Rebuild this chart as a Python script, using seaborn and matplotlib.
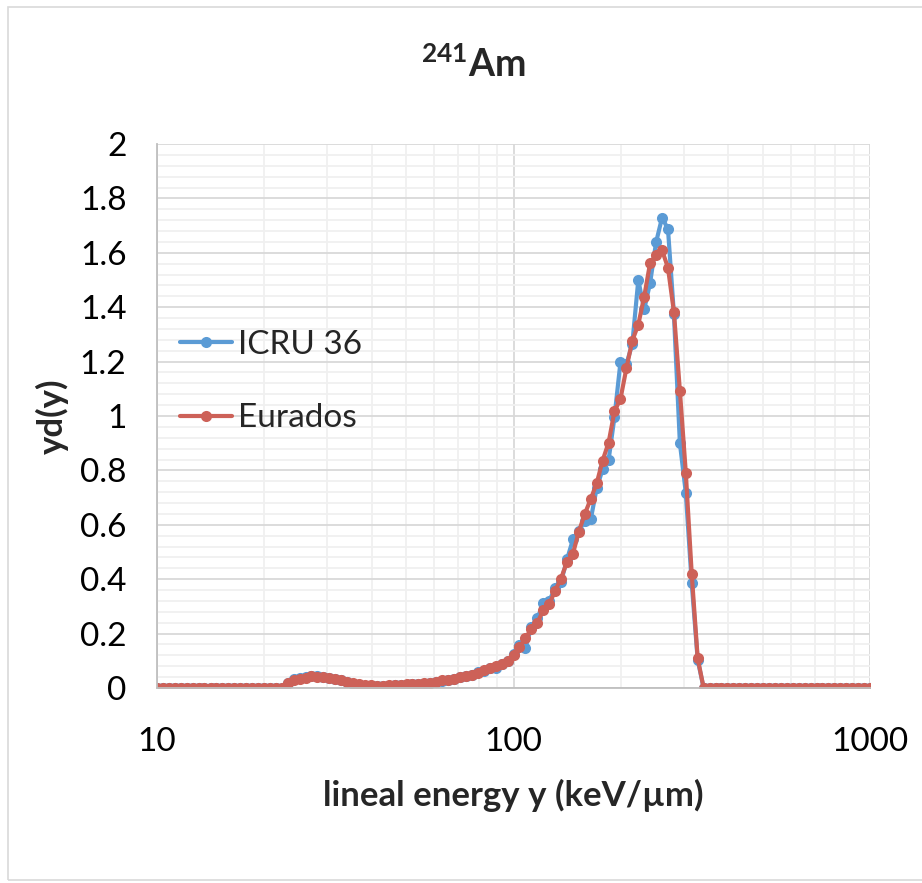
import numpy as np
import pandas as pd
import seaborn as sns
import matplotlib.pyplot as plt
from matplotlib.patches import Rectangle
from matplotlib.ticker import FixedLocator, FuncFormatter, NullFormatter

# lineal energy grid (keV/um)
LINEAL_Y = [
    10.0, 10.39, 10.80, 11.22, 11.66, 12.12, 12.59, 13.08, 13.59, 14.13,
    14.68, 15.25, 15.85, 16.47, 17.11, 17.78, 18.48, 19.20, 19.95, 20.73,
    21.54, 22.39, 23.26, 24.17, 25.12, 26.10, 27.12, 28.18, 29.29, 30.43,
    31.62, 32.86, 34.15, 35.48, 36.87, 38.31, 39.81, 41.37, 42.99, 44.67,
    46.42, 48.23, 50.12, 52.08, 54.12, 56.23, 58.43, 60.72, 63.10, 65.56,
    68.13, 70.80, 73.56, 76.44, 79.43, 82.54, 85.77, 89.13, 92.61, 96.24,
    100.0, 103.9, 108.0, 112.2, 116.6, 121.2, 125.9, 130.8, 135.9, 141.3,
    146.8, 152.5, 158.5, 164.7, 171.1, 177.8, 184.8, 192.0, 199.5, 207.3,
    215.4, 223.9, 232.6, 241.7, 251.2, 261.0, 271.2, 281.8, 292.9, 304.3,
    316.2, 328.6, 341.5, 354.8, 368.7, 383.1, 398.1, 413.7, 429.9, 446.7,
    464.2, 482.3, 501.2, 520.8, 541.2, 562.3, 584.3, 607.2, 631.0, 655.6,
    681.3, 708.0, 735.6, 764.4, 794.3, 825.4, 857.7, 891.3, 926.1, 962.4,
    1000.0,
]

ICRU36 = [
    0, 0, 0, 0, 0, 0, 0, 0, 0, 0,
    0, 0, 0, 0, 0, 0, 0, 0, 0, 0,
    0, 0, 0.020, 0.032, 0.036, 0.040, 0.045, 0.043, 0.042, 0.038,
    0.033, 0.028, 0.021, 0.015, 0.011, 0.008, 0.007, 0.007, 0.008, 0.009,
    0.010, 0.011, 0.012, 0.013, 0.015, 0.016, 0.018, 0.021, 0.025, 0.029,
    0.033, 0.039, 0.043, 0.046, 0.058, 0.064, 0.073, 0.072, 0.088, 0.100,
    0.125, 0.158, 0.147, 0.225, 0.256, 0.311, 0.320, 0.367, 0.390, 0.473,
    0.546, 0.578, 0.615, 0.620, 0.734, 0.804, 0.838, 0.997, 1.197, 1.190,
    1.265, 1.500, 1.392, 1.490, 1.639, 1.729, 1.688, 1.375, 0.900, 0.718,
    0.385, 0.103, 0, 0, 0, 0, 0, 0, 0, 0,
    0, 0, 0, 0, 0, 0, 0, 0, 0, 0,
    0, 0, 0, 0, 0, 0, 0, 0, 0, 0,
    0,
]

EURADOS = [
    0, 0, 0, 0, 0, 0, 0, 0, 0, 0,
    0, 0, 0, 0, 0, 0, 0, 0, 0, 0,
    0, 0, 0.018, 0.030, 0.034, 0.038, 0.043, 0.042, 0.041, 0.038,
    0.034, 0.029, 0.023, 0.018, 0.014, 0.011, 0.010, 0.009, 0.009, 0.010,
    0.011, 0.012, 0.013, 0.014, 0.016, 0.018, 0.020, 0.023, 0.028, 0.031,
    0.034, 0.040, 0.044, 0.048, 0.056, 0.065, 0.075, 0.080, 0.090, 0.100,
    0.122, 0.150, 0.182, 0.218, 0.240, 0.285, 0.307, 0.358, 0.402, 0.464,
    0.494, 0.575, 0.640, 0.695, 0.752, 0.836, 0.902, 1.018, 1.062, 1.175,
    1.277, 1.336, 1.439, 1.563, 1.592, 1.610, 1.545, 1.383, 1.093, 0.792,
    0.419, 0.109, 0, 0, 0, 0, 0, 0, 0, 0,
    0, 0, 0, 0, 0, 0, 0, 0, 0, 0,
    0, 0, 0, 0, 0, 0, 0, 0, 0, 0,
    0,
]

SERIES = ["ICRU 36", "Eurados"]
PALETTE = ["#5B9BD5", "#CD6158"]

X_MAJOR = [10, 100, 1000]
X_MINOR = [20, 30, 40, 50, 60, 70, 80, 90, 200, 300, 400, 500, 600, 700, 800, 900]
Y_MAJOR = [0, 0.2, 0.4, 0.6, 0.8, 1.0, 1.2, 1.4, 1.6, 1.8, 2.0]

FONT = ["Lato", "DejaVu Sans"]


def main():
    df = pd.concat([
        pd.DataFrame({"y": LINEAL_Y, "yd": ICRU36, "source": SERIES[0]}),
        pd.DataFrame({"y": LINEAL_Y, "yd": EURADOS, "source": SERIES[1]}),
    ], ignore_index=True)

    sns.set_theme(style="white")
    plt.rcParams["font.family"] = FONT
    plt.rcParams["mathtext.fontset"] = "custom"
    plt.rcParams["mathtext.rm"] = "Lato"
    plt.rcParams["mathtext.bf"] = "Lato:bold"

    fig = plt.figure(figsize=(9.22, 8.83), dpi=100)
    ax = fig.add_axes([157 / 922, 1 - 688 / 883, 713 / 922, 544 / 883])

    sns.lineplot(
        data=df, x="y", y="yd", hue="source", hue_order=SERIES,
        palette=PALETTE, marker="o", markersize=8, markeredgewidth=0,
        linewidth=3.0, ax=ax,
    )

    ax.set_xscale("log")
    ax.set_xlim(10, 1000)
    ax.set_ylim(0, 2)

    # excel-like gridlines
    ax.xaxis.set_major_locator(FixedLocator(X_MAJOR))
    ax.xaxis.set_minor_locator(FixedLocator(X_MINOR))
    ax.xaxis.set_major_formatter(FuncFormatter(lambda v, p: f"{v:g}"))
    ax.xaxis.set_minor_formatter(NullFormatter())
    ax.yaxis.set_major_locator(FixedLocator(Y_MAJOR))
    ax.yaxis.set_minor_locator(FixedLocator([k * 0.04 for k in range(51)]))
    ax.yaxis.set_major_formatter(FuncFormatter(lambda v, p: f"{v:g}"))
    ax.grid(True, which="major", color="#D9D9D9", linewidth=1.3)
    ax.grid(True, which="minor", color="#F0F0F0", linewidth=1.3)
    ax.set_axisbelow(True)

    for side in ("top", "right"):
        ax.spines[side].set_visible(False)
    for side in ("left", "bottom"):
        ax.spines[side].set_color("#BFBFBF")
        ax.spines[side].set_linewidth(1.3)

    ax.tick_params(axis="both", which="both", length=0, labelsize=24,
                   colors="black")
    ax.tick_params(axis="y", pad=22)
    ax.tick_params(axis="x", pad=28)

    ax.set_xlabel("lineal energy y (keV/µm)", fontsize=25, fontweight="bold",
                  labelpad=16)
    ax.set_ylabel("yd(y)", fontsize=25, fontweight="bold", labelpad=8)

    handles, labels = ax.get_legend_handles_labels()
    ax.legend(handles, labels, loc="center left",
              bbox_to_anchor=(-0.01, 0.563), frameon=False, fontsize=24,
              handlelength=1.55, handletextpad=0.2, labelspacing=1.3)

    fig.text(473 / 922, 1 - 65 / 883, r"$\mathbf{^{241}Am}$", fontsize=27,
             ha="center", va="center")

    fig.add_artist(Rectangle((8 / 922, 3 / 883), 920 / 922, 873 / 883,
                             transform=fig.transFigure, fill=False,
                             edgecolor="#D9D9D9", linewidth=1.2))

    fig.savefig("out.png", dpi=100, facecolor="white")


if __name__ == "__main__":
    main()
